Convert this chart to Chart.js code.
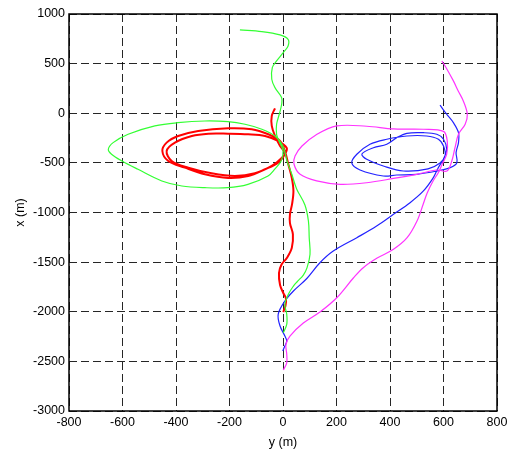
<!DOCTYPE html>
<html>
<head>
<meta charset="utf-8">
<script src="https://cdn.jsdelivr.net/npm/chart.js@4.4.0/dist/chart.umd.min.js"></script>
<style>
html,body{margin:0;padding:0;background:#fff;}
#c{display:block;}
</style>
</head>
<body>
<canvas id="c" width="513" height="454"></canvas>
<script>
// horizontal axis = "y (m)", vertical axis = "x (m)"
const xTicks = [-800,-600,-400,-200,0,200,400,600,800];
const yTicks = [-3000,-2500,-2000,-1500,-1000,-500,0,500,1000];

const greenY = [-161,-79,-11,19,19,1,-24,-40,-42,-30,-5,-5,-14,-24,-24,-15,0,-7,-30,-56,-131,-206,-292,-378,-453,-542,-602,-641,-653,-635,-579,-479,-393,-292,-206,-142,-79,-30,0,15,33,51,82,95,98,101,90,76,52,39,20,7,14,14,1];
const greenX = [840,823,789,744,678,611,527,460,343,258,157,91,-10,-111,-212,-279,-380,-481,-561,-632,-716,-750,-750,-733,-682,-565,-481,-413,-363,-296,-212,-128,-95,-78,-85,-111,-161,-229,-330,-481,-615,-763,-924,-1086,-1254,-1421,-1556,-1630,-1700,-1741,-1824,-1925,-2026,-2127,-2212];

const redY = [-30,-42,-42,-30,-11,7,-5,-42,-105,-180,-267,-354,-416,-435,-404,-341,-279,-205,-130,-67,-19,14,7,-18,-67,-130,-205,-292,-367,-429,-451,-435,-392,-317,-205,-117,-55,-11,7,20,33,39,34,26,26,37,33,15,-5,-15,-11,1,11,9,1];
const redX = [50,-27,-128,-229,-330,-400,-451,-531,-605,-632,-605,-548,-481,-380,-296,-229,-206,-206,-212,-229,-279,-350,-413,-498,-564,-632,-652,-615,-548,-481,-380,-296,-229,-178,-151,-161,-212,-279,-380,-514,-652,-783,-914,-1018,-1106,-1220,-1355,-1456,-1522,-1610,-1731,-1811,-1867,-1942,-2003];

const magentaY = [594,613,637,655,674,689,681,656,643,631,613,576,500,413,313,213,126,64,41,45,71,123,201,313,413,525,600,614,612,595,580,561,539,524,501,464,413,352,300,263,201,138,76,26,11,14,14,1];
const magentaX = [527,444,326,225,124,-10,-111,-212,-347,-481,-582,-572,-615,-657,-700,-716,-682,-615,-511,-430,-330,-219,-128,-131,-158,-161,-183,-279,-413,-514,-602,-682,-803,-917,-1086,-1254,-1371,-1459,-1556,-1660,-1859,-2003,-2114,-2245,-2328,-2429,-2514,-2588];

const blueY = [587,612,637,656,656,647,650,625,575,500,425,375,288,257,276,325,388,463,537,581,600,606,587,542,450,375,313,295,338,388,425,463,525,575,600,612,600,580,562,525,475,413,350,276,188,138,89,39,7,-18,-11,7,14,4,-1];
const blueX = [81,-10,-95,-196,-296,-397,-498,-548,-582,-615,-622,-632,-572,-501,-413,-312,-262,-229,-229,-262,-330,-430,-501,-561,-582,-531,-464,-410,-347,-312,-246,-202,-196,-212,-262,-363,-461,-551,-649,-783,-901,-1018,-1136,-1254,-1388,-1506,-1665,-1791,-1892,-2026,-2144,-2245,-2295,-2363,-2396];

function pts(h, v){ return h.map((val,i)=>({x:val, y:v[i]})); }

function series(label, h, v, color, width){
  return {label, data: pts(h,v), borderColor: color, backgroundColor: color,
    borderWidth: width, showLine: true, pointRadius: 0, pointHoverRadius: 0,
    tension: 0.35, fill: false};
}

const boxPlugin = {
  id: 'box',
  afterDatasetsDraw(chart){
    const {ctx, chartArea: a} = chart;
    ctx.save();
    ctx.strokeStyle = '#000';
    ctx.lineWidth = 1.5;
    ctx.setLineDash([]);
    ctx.strokeRect(a.left, a.top, a.right - a.left, a.bottom - a.top);
    ctx.restore();
  }
};

const font = {family: '"Liberation Sans", Arial, sans-serif', size: 12.5};
const plain = v => String(v);

new Chart(document.getElementById('c'), {
  type: 'scatter',
  data: {
    datasets: [
      series('green', greenY, greenX, '#33ff33', 1.2),
      series('red', redY, redX, '#ff0000', 2),
      series('magenta', magentaY, magentaX, '#ff33ff', 1.2),
      series('blue', blueY, blueX, '#2222ff', 1.2)
    ]
  },
  options: {
    responsive: false,
    animation: false,
    devicePixelRatio: 1,
    layout: {padding: {left: 0, top: 14, right: 16, bottom: 0}},
    plugins: {legend: {display: false}, tooltip: {enabled: false}},
    scales: {
      x: {
        type: 'linear', min: -800, max: 800,
        afterBuildTicks(s){ s.ticks = xTicks.map(v=>({value:v})); },
        afterFit(s){ s.height = 43; },
        ticks: {color: '#000', font, padding: 4, maxRotation: 0, autoSkip: false, callback: plain},
        grid: {color: 'rgba(0,0,0,0.85)', lineWidth: 1, drawTicks: false},
        border: {display: false, dash: [8,4]},
        title: {display: true, text: 'y (m)', color: '#000', font, padding: {top: 0, bottom: 3.5}}
      },
      y: {
        type: 'linear', min: -3000, max: 1000,
        afterBuildTicks(s){ s.ticks = yTicks.map(v=>({value:v})); },
        afterFit(s){ s.width = 69; },
        ticks: {color: '#000', font, padding: 4, autoSkip: false, callback: plain},
        grid: {color: 'rgba(0,0,0,0.85)', lineWidth: 1, drawTicks: false},
        border: {display: false, dash: [8,4]},
        title: {display: true, text: 'x (m)', color: '#000', font, padding: {top: 13.5, bottom: 0}}
      }
    }
  },
  plugins: [boxPlugin]
});
</script>
</body>
</html>
